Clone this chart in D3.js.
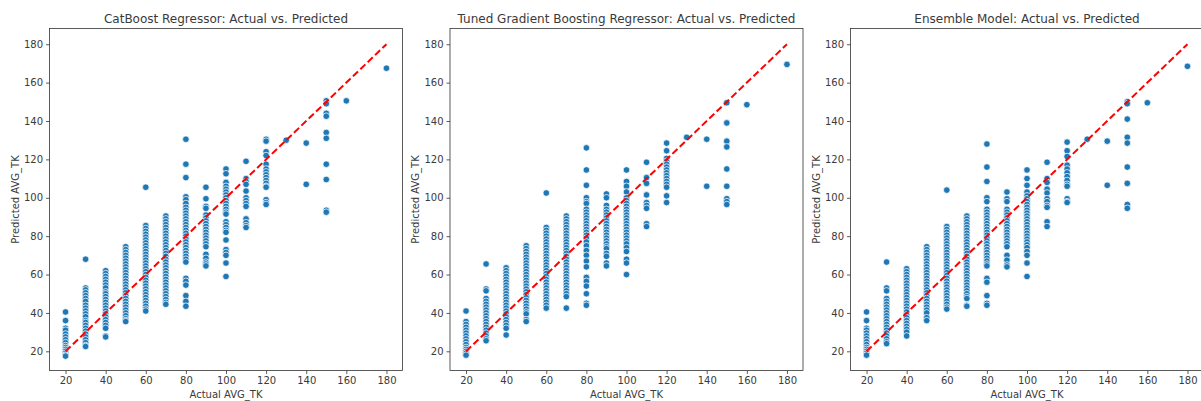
<!DOCTYPE html>
<html>
<head>
<meta charset="utf-8">
<script src="https://cdn.jsdelivr.net/npm/d3@7"></script>
<style>
    body { margin: 0; background: #fff; }
    text { font-family: "DejaVu Sans", sans-serif; fill: #3a3a3a; }
</style>
</head>
<body>
<div class="chart"></div>
<script>
'use strict';
// actual AVG_TK levels (x) shared by all three models
var actualLevels = [20, 30, 40, 50, 60, 70, 80, 90, 100, 110, 120, 130, 140, 150, 160, 180];

// predicted values, one list per actual level
var catboostPred = [
    [40.5, 36, 32, 31, 29, 27.5, 26, 24.5, 23, 22, 21, 20, 19, 18, 17.5],
    [68, 53, 52, 50.5, 49, 47.5, 46, 44, 42.5, 41, 39.5, 38, 36, 35, 33.5, 32, 30.5, 29, 27.5, 26, 24.5, 23, 22.5],
    [62, 60.5, 59, 57.5, 56, 54.5, 53, 51, 50, 48.5, 47, 45.5, 44, 42.5, 41, 39.5, 38, 36.5, 35, 33.5, 32, 28, 27.5],
    [74.5, 73, 71.5, 70, 68.5, 67, 65.5, 64, 62.5, 61, 59.5, 58, 56.5, 55, 53.5, 52, 50.5, 49, 47.5, 46, 44.5, 43, 41.5, 40, 38.5, 37, 36, 35.5],
    [105.5, 85.5, 84, 82.5, 81, 79.5, 78, 76.5, 75, 73.5, 72, 70.5, 69, 67.5, 66, 64.5, 63, 61.5, 60, 58.5, 57, 55.5, 54, 52.5, 51, 49.5, 48, 46.5, 45, 43.5, 42, 41],
    [90.5, 89, 87.5, 86, 84.5, 83, 81.5, 80, 78.5, 77, 75.5, 74, 72.5, 71, 69.5, 68, 66.5, 65, 63.5, 62, 60.5, 59, 57.5, 56, 54.5, 53, 51.5, 50, 48.5, 47, 45.5, 44.5],
    [130.5, 117.5, 110.5, 100.5, 99, 97, 95, 93.5, 92, 90.5, 89, 87.5, 86, 84.5, 83, 81.5, 80, 78.5, 77, 75.5, 74, 72.5, 71, 69.5, 68, 66.5, 58, 56.5, 54.5, 49, 46, 43.5],
    [105.5, 99.5, 95.5, 94.5, 91, 89.5, 88, 86.5, 85, 83.5, 82, 80.5, 79, 77.5, 76, 74.5, 70.5, 68.5, 66.5, 65.5, 64.5],
    [115, 112.5, 108, 106, 104.5, 103, 101.5, 100, 98.5, 97, 95.5, 94, 92.5, 91.5, 87.5, 86, 84.5, 83, 82, 78, 73, 71.5, 70, 66, 59],
    [119, 110, 108.5, 107, 103.5, 100, 98.5, 97, 95.5, 89, 87, 85.5, 84.5],
    [130.5, 129.5, 124, 122, 117.5, 115, 113.5, 112, 110.5, 109, 107.5, 106, 105.5, 99, 97.5, 96.5],
    [130],
    [128.5, 107],
    [150.5, 149, 144, 142.5, 134, 131, 117.5, 109.5, 93.5, 92.5],
    [150.5],
    [167.5]
];

var gbrPred = [
    [41, 35.5, 34, 32.5, 31, 29.5, 28, 26.5, 25, 23.5, 22, 21, 20, 19, 18],
    [65.5, 52.5, 51.5, 47.5, 46, 44.5, 43, 41.5, 40, 38.5, 37, 35.5, 34, 32.5, 31, 29.5, 28, 26.5, 25.5],
    [63.5, 62, 60.5, 59, 57.5, 56, 54.5, 53, 51.5, 50, 48.5, 47, 45.5, 44, 42.5, 41, 39.5, 38, 36.5, 35, 33.5, 32, 28.5],
    [75, 73.5, 72, 70.5, 69, 67.5, 66, 64.5, 63, 61.5, 60, 58.5, 57, 55.5, 54, 52.5, 51, 49.5, 48, 46.5, 45, 43.5, 42, 40.5, 39.5, 36.5, 35.5],
    [102.5, 84.5, 83, 81.5, 80, 78.5, 77, 75.5, 74, 72.5, 71, 69.5, 68, 66.5, 65, 63.5, 62, 60.5, 59, 57.5, 56, 54.5, 53, 51.5, 50, 48.5, 47, 45.5, 44, 42.5],
    [90.5, 89, 87.5, 86, 84.5, 83, 81.5, 80, 78.5, 77, 75.5, 74, 72.5, 71, 69.5, 68, 66.5, 65, 63.5, 62, 60.5, 59, 57.5, 56, 54.5, 53, 51.5, 50, 48.5, 42.5],
    [126, 114.5, 106.5, 100, 98, 97, 94, 92.5, 91, 89.5, 88, 86.5, 85, 83.5, 82, 80.5, 79, 77, 75, 72.5, 70, 67, 64, 58.5, 56.5, 54, 50, 45, 44],
    [102, 100, 96, 94, 92.5, 91, 89.5, 88, 86.5, 85, 83.5, 82, 80.5, 79, 77.5, 76, 74.5, 73.5, 71, 69.5, 66, 64.5],
    [114.5, 108.5, 106, 103, 100, 98.5, 97, 95.5, 94, 92.5, 91, 89.5, 88, 86.5, 85, 83.5, 82, 80.5, 79, 77.5, 76, 74, 72, 68, 66, 60],
    [118.5, 110.5, 107.5, 101.5, 97.5, 96, 94.5, 86.5, 85],
    [128.5, 124.5, 120.5, 119, 117.5, 116, 114.5, 113, 111.5, 110, 108.5, 107, 105.5, 101, 97.5],
    [131.5],
    [130.5, 106],
    [149.5, 139, 129.5, 126.5, 115, 106, 99.5, 98, 96.5],
    [148.5],
    [169.5]
];

var ensemblePred = [
    [40.5, 36, 32, 31, 29.5, 28, 26.5, 25, 23.5, 22, 21, 20, 19, 18],
    [66.5, 53, 51.5, 47.5, 46, 44.5, 43, 41.5, 40, 38.5, 37, 35.5, 34, 32.5, 31, 29.5, 28, 26.5, 25, 24],
    [63, 61.5, 60, 58.5, 57, 55.5, 54, 52.5, 51, 49.5, 48, 46.5, 45, 43.5, 42, 40.5, 39, 37.5, 36, 34.5, 33, 31.5, 30, 28],
    [74.5, 73, 71.5, 70, 68.5, 67, 65.5, 64, 62.5, 61, 59.5, 58, 56.5, 55, 53.5, 52, 50.5, 49, 47.5, 46, 44.5, 43, 41.5, 40, 37.5, 36],
    [104, 85, 83.5, 82, 80.5, 79, 77.5, 76, 74.5, 73, 71.5, 70, 68.5, 67, 65.5, 64, 62.5, 61, 59.5, 58, 56.5, 55, 53.5, 52, 50.5, 49, 47.5, 46, 44.5, 43, 42],
    [90.5, 89, 87.5, 86, 84.5, 83, 81.5, 80, 78.5, 77, 75.5, 74, 72.5, 71, 69.5, 68, 66.5, 65, 63.5, 62, 60.5, 59, 57.5, 56, 54.5, 53, 51.5, 50, 48.5, 47.5, 44, 43.5],
    [128, 116, 108.5, 100, 98, 94, 92.5, 91, 89.5, 88, 86.5, 85, 83.5, 82, 80.5, 79, 77.5, 76, 74.5, 73, 71.5, 70, 68.5, 67, 65.5, 64.5, 58, 56, 49, 45, 44],
    [103, 99.5, 98, 94, 92.5, 91, 89.5, 88, 86.5, 85, 83.5, 82, 80.5, 79, 77.5, 76, 74.5, 70, 67.5, 65, 64],
    [114.5, 110, 106.5, 103, 101, 99.5, 98, 96.5, 95, 93.5, 92, 90.5, 89, 87.5, 86, 84.5, 83, 81.5, 80, 78.5, 77, 75.5, 74, 72, 70, 66, 59],
    [118.5, 110, 108, 104.5, 102.5, 99.5, 98, 96, 95, 87.5, 85],
    [129, 124.5, 121.5, 117, 115, 113, 111, 109, 107, 106, 99.5, 98, 97.5],
    [130.5],
    [129.5, 106.5],
    [150, 149, 141, 131.5, 128.5, 116, 107.5, 96.5, 94.5],
    [149.5],
    [168.5]
];

var titles = ["CatBoost Regressor: Actual vs. Predicted",
    "Tuned Gradient Boosting Regressor: Actual vs. Predicted",
    "Ensemble Model: Actual vs. Predicted"];
var tickValues = [20, 40, 60, 80, 100, 120, 140, 160, 180];
var idealLine = [20, 180];

var width = 1201, height = 401;
var svg = d3.select('.chart').append('svg')
    .attr('width', width)
    .attr('height', height);

var panelW = 353, panelH = 342, top0 = 28.5;
[catboostPred, gbrPred, ensemblePred].forEach(function (pred, i) {
    var left = 49.5 + i * 400.5;
    var g = svg.append("g").attr("transform", "translate(" + left + "," + top0 + ")");

    var x = d3.scaleLinear().domain([12, 188]).range([0, panelW]);
    var y = d3.scaleLinear().domain([10, 188.2]).range([panelH, 0]);

    var points = [];
    actualLevels.forEach(function (a, k) {
        pred[k].forEach(function (p) { points.push([a, p]); });
    });

    g.selectAll("circle").data(points).enter().append("circle")
        .attr("cx", function (d) { return x(d[0]); })
        .attr("cy", function (d) { return y(d[1]); })
        .attr("r", 3.3)
        .style("fill", "#1f77b4")
        .style("stroke", "#fff")
        .style("stroke-width", 0.75);

    // y = x reference line
    g.append("line")
        .attr("x1", x(idealLine[0])).attr("y1", y(idealLine[0]))
        .attr("x2", x(idealLine[1])).attr("y2", y(idealLine[1]))
        .style("stroke", "#ff0000")
        .style("stroke-width", 2)
        .style("stroke-dasharray", "7,3.2");

    var xAxis = g.append("g").attr("transform", "translate(0," + panelH + ")")
        .call(d3.axisBottom(x).tickValues(tickValues).tickSize(3.5).tickPadding(3));
    var yAxis = g.append("g")
        .call(d3.axisLeft(y).tickValues(tickValues).tickSize(3.5).tickPadding(3));
    [xAxis, yAxis].forEach(function (ax) {
        ax.select(".domain").remove();
        ax.selectAll("line").style("stroke", "#333").style("stroke-width", 0.8);
        ax.selectAll("text").style("font-size", "10px").style("fill", "#3a3a3a")
            .style("font-family", "DejaVu Sans, sans-serif");
    });

    g.append("rect")
        .attr("width", panelW).attr("height", panelH)
        .style("fill", "none")
        .style("stroke", "#333")
        .style("stroke-width", 0.8);

    g.append("text")
        .attr("x", panelW / 2).attr("y", -6)
        .attr("text-anchor", "middle")
        .style("font-size", "12px")
        .text(titles[i]);
    g.append("text")
        .attr("x", panelW / 2).attr("y", panelH + 27.5)
        .attr("text-anchor", "middle")
        .style("font-size", "10px")
        .text("Actual AVG_TK");
    g.append("text")
        .attr("transform", "translate(-31," + (panelH / 2) + ") rotate(-90)")
        .attr("text-anchor", "middle")
        .style("font-size", "10px")
        .text("Predicted AVG_TK");
});
</script>
</body>
</html>
